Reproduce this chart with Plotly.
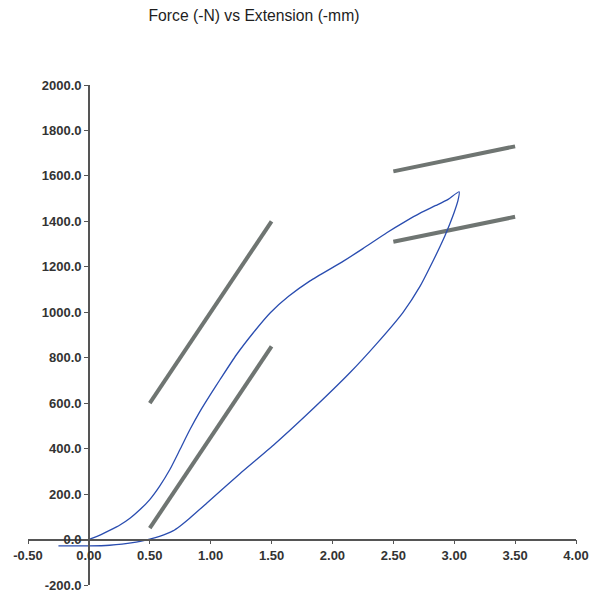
import plotly.graph_objects as go

# Blue hysteresis loop (loading then unloading)
load_x = [0, 0.035, 0.1, 0.17, 0.255, 0.34, 0.42, 0.5, 0.58, 0.665, 0.748, 0.83, 0.91, 1.0,
          1.076, 1.21, 1.35, 1.49, 1.64, 1.816, 2.09, 2.25, 2.446, 2.6, 2.72, 2.85, 2.95, 3.04]
load_y = [0, 7, 22, 40, 64, 95, 132, 176, 234, 308, 396, 484, 562, 640,
          703, 812, 910, 998, 1070, 1138, 1225, 1280, 1350, 1400, 1436, 1470, 1497, 1530]
unload_x = [3.04, 3.03, 3.0, 2.966, 2.91, 2.83, 2.72, 2.58, 2.36, 2.145, 1.79, 1.515,
            1.24, 0.967, 0.83, 0.75, 0.69, 0.58, 0.5, 0.36, 0.17, 0.0, -0.25]
unload_y = [1530, 1490, 1440, 1392, 1320, 1230, 1115, 1000, 860, 735, 550, 415,
            290, 160, 95, 60, 38, 14, 2, -14, -25, -28, -28]

# Gray reference lines (four segments)
seg_x0 = [0.5, 0.5, 2.5, 2.5]
seg_x1 = [1.5, 1.5, 3.5, 3.5]
seg_y0 = [600, 50, 1620, 1310]
seg_y1 = [1400, 850, 1730, 1420]

x_ticks = [-0.5, 0.0, 0.5, 1.0, 1.5, 2.0, 2.5, 3.0, 3.5, 4.0]
x_tick_text = ["-0.50", "0.00", "0.50", "1.00", "1.50", "2.00", "2.50", "3.00", "3.50", "4.00"]
y_ticks = [-200, 0, 200, 400, 600, 800, 1000, 1200, 1400, 1600, 1800, 2000]
y_tick_text = ["-200.0", "0.0", "200.0", "400.0", "600.0", "800.0", "1000.0", "1200.0",
               "1400.0", "1600.0", "1800.0", "2000.0"]

fig = go.Figure()

for i in range(len(seg_x0)):
    fig.add_trace(go.Scatter(
        x=[seg_x0[i], seg_x1[i]], y=[seg_y0[i], seg_y1[i]], mode="lines",
        line=dict(color="#6f7572", width=4), showlegend=False, hoverinfo="skip"))

fig.add_trace(go.Scatter(
    x=load_x + unload_x[1:], y=load_y + unload_y[1:], mode="lines",
    line=dict(color="#2a4db0", width=1.3, shape="spline", smoothing=0.5),
    showlegend=False))

x_min, x_max = -0.5, 4.0
y_min, y_max = -200, 2000

tick_font = dict(size=13, family="Liberation Sans, Arial", color="#333333", weight="bold")

fig.update_layout(
    width=592, height=593,
    margin=dict(l=28, r=16, t=85, b=8, autoexpand=False),
    paper_bgcolor="white", plot_bgcolor="white",
    title=dict(text="Force (-N) vs Extension (-mm)", x=254/592, xanchor="center",
               xref="container", y=1-16/593, yref="container", yanchor="middle",
               font=dict(family="Liberation Sans, Arial", size=15.7, color="#1e1e1e")),
    font=dict(family="Liberation Sans, Arial", color="#333333"),
    xaxis=dict(range=[x_min, x_max], tickvals=x_ticks, ticktext=x_tick_text,
               showgrid=False, zeroline=False, showline=True, linecolor="#555555",
               linewidth=1.5, ticks="outside", ticklen=4, tickcolor="#555555",
               anchor="free", position=(0 - y_min) / (y_max - y_min),
               automargin=False, tickfont=tick_font),
    yaxis=dict(range=[y_min, y_max], tickvals=y_ticks, ticktext=y_tick_text,
               showgrid=False, zeroline=False, showline=True, linecolor="#555555",
               linewidth=1.5, ticks="outside", ticklen=4, tickcolor="#555555",
               anchor="free", position=(0 - x_min) / (x_max - x_min),
               automargin=False, tickfont=tick_font),
)

fig.write_html("out.html", config={"displayModeBar": False},
               post_script="document.body.style.margin='0';document.body.style.overflow='hidden';")
